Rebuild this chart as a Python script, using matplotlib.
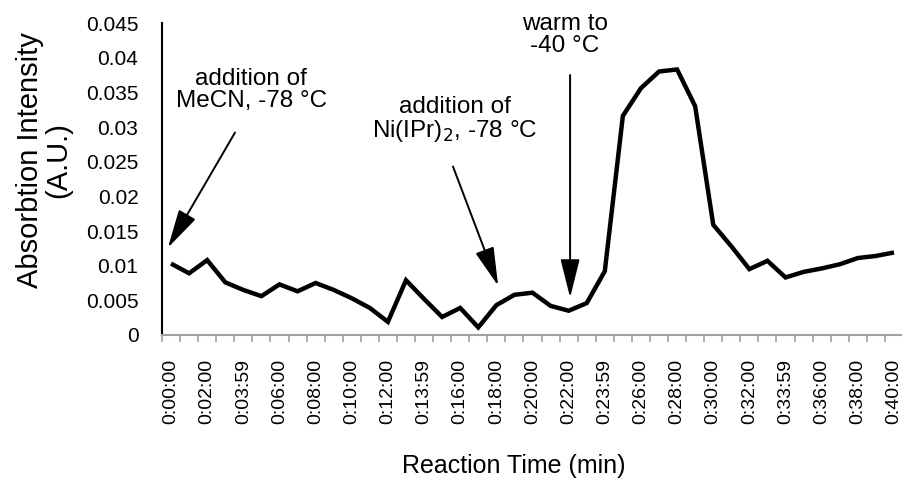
import matplotlib
matplotlib.use("Agg")
import matplotlib.pyplot as plt
from matplotlib.ticker import FixedLocator, NullFormatter

plt.rcParams['font.family'] = ['Liberation Sans', 'DejaVu Sans']

times = ["0:00:00", "0:01:00", "0:02:00", "0:03:00", "0:03:59", "0:05:00", "0:06:00",
         "0:07:00", "0:08:00", "0:09:00", "0:10:00", "0:11:00", "0:12:00", "0:13:00",
         "0:13:59", "0:15:00", "0:16:00", "0:17:00", "0:18:00", "0:19:00", "0:20:00",
         "0:21:00", "0:22:00", "0:23:00", "0:23:59", "0:25:00", "0:26:00", "0:27:00",
         "0:28:00", "0:29:00", "0:30:00", "0:31:00", "0:32:00", "0:33:00", "0:33:59",
         "0:35:00", "0:36:00", "0:37:00", "0:38:00", "0:39:00", "0:40:00"]

absorbance = [0.0103, 0.0089, 0.0108, 0.0076, 0.0065, 0.0056, 0.0073, 0.0063, 0.0075,
              0.0065, 0.0053, 0.0039, 0.0019, 0.0079, 0.0052, 0.0026, 0.0039, 0.0011,
              0.0043, 0.0058, 0.0061, 0.0042, 0.0035, 0.0046, 0.0092, 0.0316, 0.0356,
              0.0380, 0.0383, 0.0330, 0.0159, 0.0128, 0.0095, 0.0107, 0.0083, 0.0091,
              0.0096, 0.0102, 0.0111, 0.0114, 0.0119]

yticks = [0, 0.005, 0.01, 0.015, 0.02, 0.025, 0.03, 0.035, 0.04, 0.045]
ytick_labels = ["0", "0.005", "0.01", "0.015", "0.02", "0.025", "0.03", "0.035", "0.04", "0.045"]

W, H = 903, 479
fig = plt.figure(figsize=(W / 100, H / 100), dpi=100)
ax = fig.add_axes([162 / W, (H - 335) / H, (903 - 162) / W, (335 - 23) / H])

x = list(range(len(times)))
ax.plot(x, absorbance, color='black', lw=3.2, solid_joinstyle='miter', solid_capstyle='butt')

ax.set_xlim(-0.5, len(times) - 0.5)
ax.set_ylim(0, 0.045)

ax.set_yticks(yticks)
ax.set_yticklabels(ytick_labels, fontsize=15)
ax.tick_params(axis='y', length=0, pad=17)

ax.set_xticks(x[::2])
ax.set_xticklabels(times[::2], rotation=90, fontsize=14, va='top')
ax.xaxis.set_minor_locator(FixedLocator([i - 0.5 for i in range(len(times) + 1)]))
ax.xaxis.set_minor_formatter(NullFormatter())
ax.tick_params(axis='x', which='major', length=0, pad=17)
ax.tick_params(axis='x', which='minor', length=5, width=1.2, color='#a0a0a0', direction='out')

for s in ['top', 'right']:
    ax.spines[s].set_visible(False)
ax.spines['bottom'].set_color('#a0a0a0')
ax.spines['bottom'].set_linewidth(1.5)
ax.spines['left'].set_color('black')
ax.spines['left'].set_linewidth(1.5)

fig.text(44 / W, 1 - 160 / H, "Absorbtion Intensity\n(A.U.)", rotation=90,
         ha='center', va='center', fontsize=21, linespacing=1.0)
fig.text(514 / W, 1 - 466 / H, "Reaction Time (min)", ha='center', va='center', fontsize=18)

aprops = dict(arrowstyle='-|>,head_length=1.2,head_width=0.3', color='black', lw=1.4,
              mutation_scale=20, shrinkA=0, shrinkB=0)
ax.annotate("", xy=(-0.17, 0.0126), xytext=(3.54, 0.0292), arrowprops=aprops, annotation_clip=False)
ax.annotate("", xy=(18.1, 0.0071), xytext=(15.6, 0.0243), arrowprops=aprops, annotation_clip=False)
ax.annotate("", xy=(22.08, 0.0054), xytext=(22.08, 0.0375), arrowprops=aprops, annotation_clip=False)

ax.text(4.43, 0.0353, "addition of\nMeCN, -78 °C", ha='center', va='center', fontsize=17.5,
        linespacing=1.0)
ax.text(15.7, 0.031, "addition of\nNi(IPr)$_2$, -78 °C", ha='center', va='center', fontsize=17.5,
        linespacing=1.0)
ax.text(21.8, 0.0432, "warm to\n-40 °C", ha='center', va='center', fontsize=17.5,
        linespacing=1.0, clip_on=False)

fig.savefig("out.png", dpi=100)
